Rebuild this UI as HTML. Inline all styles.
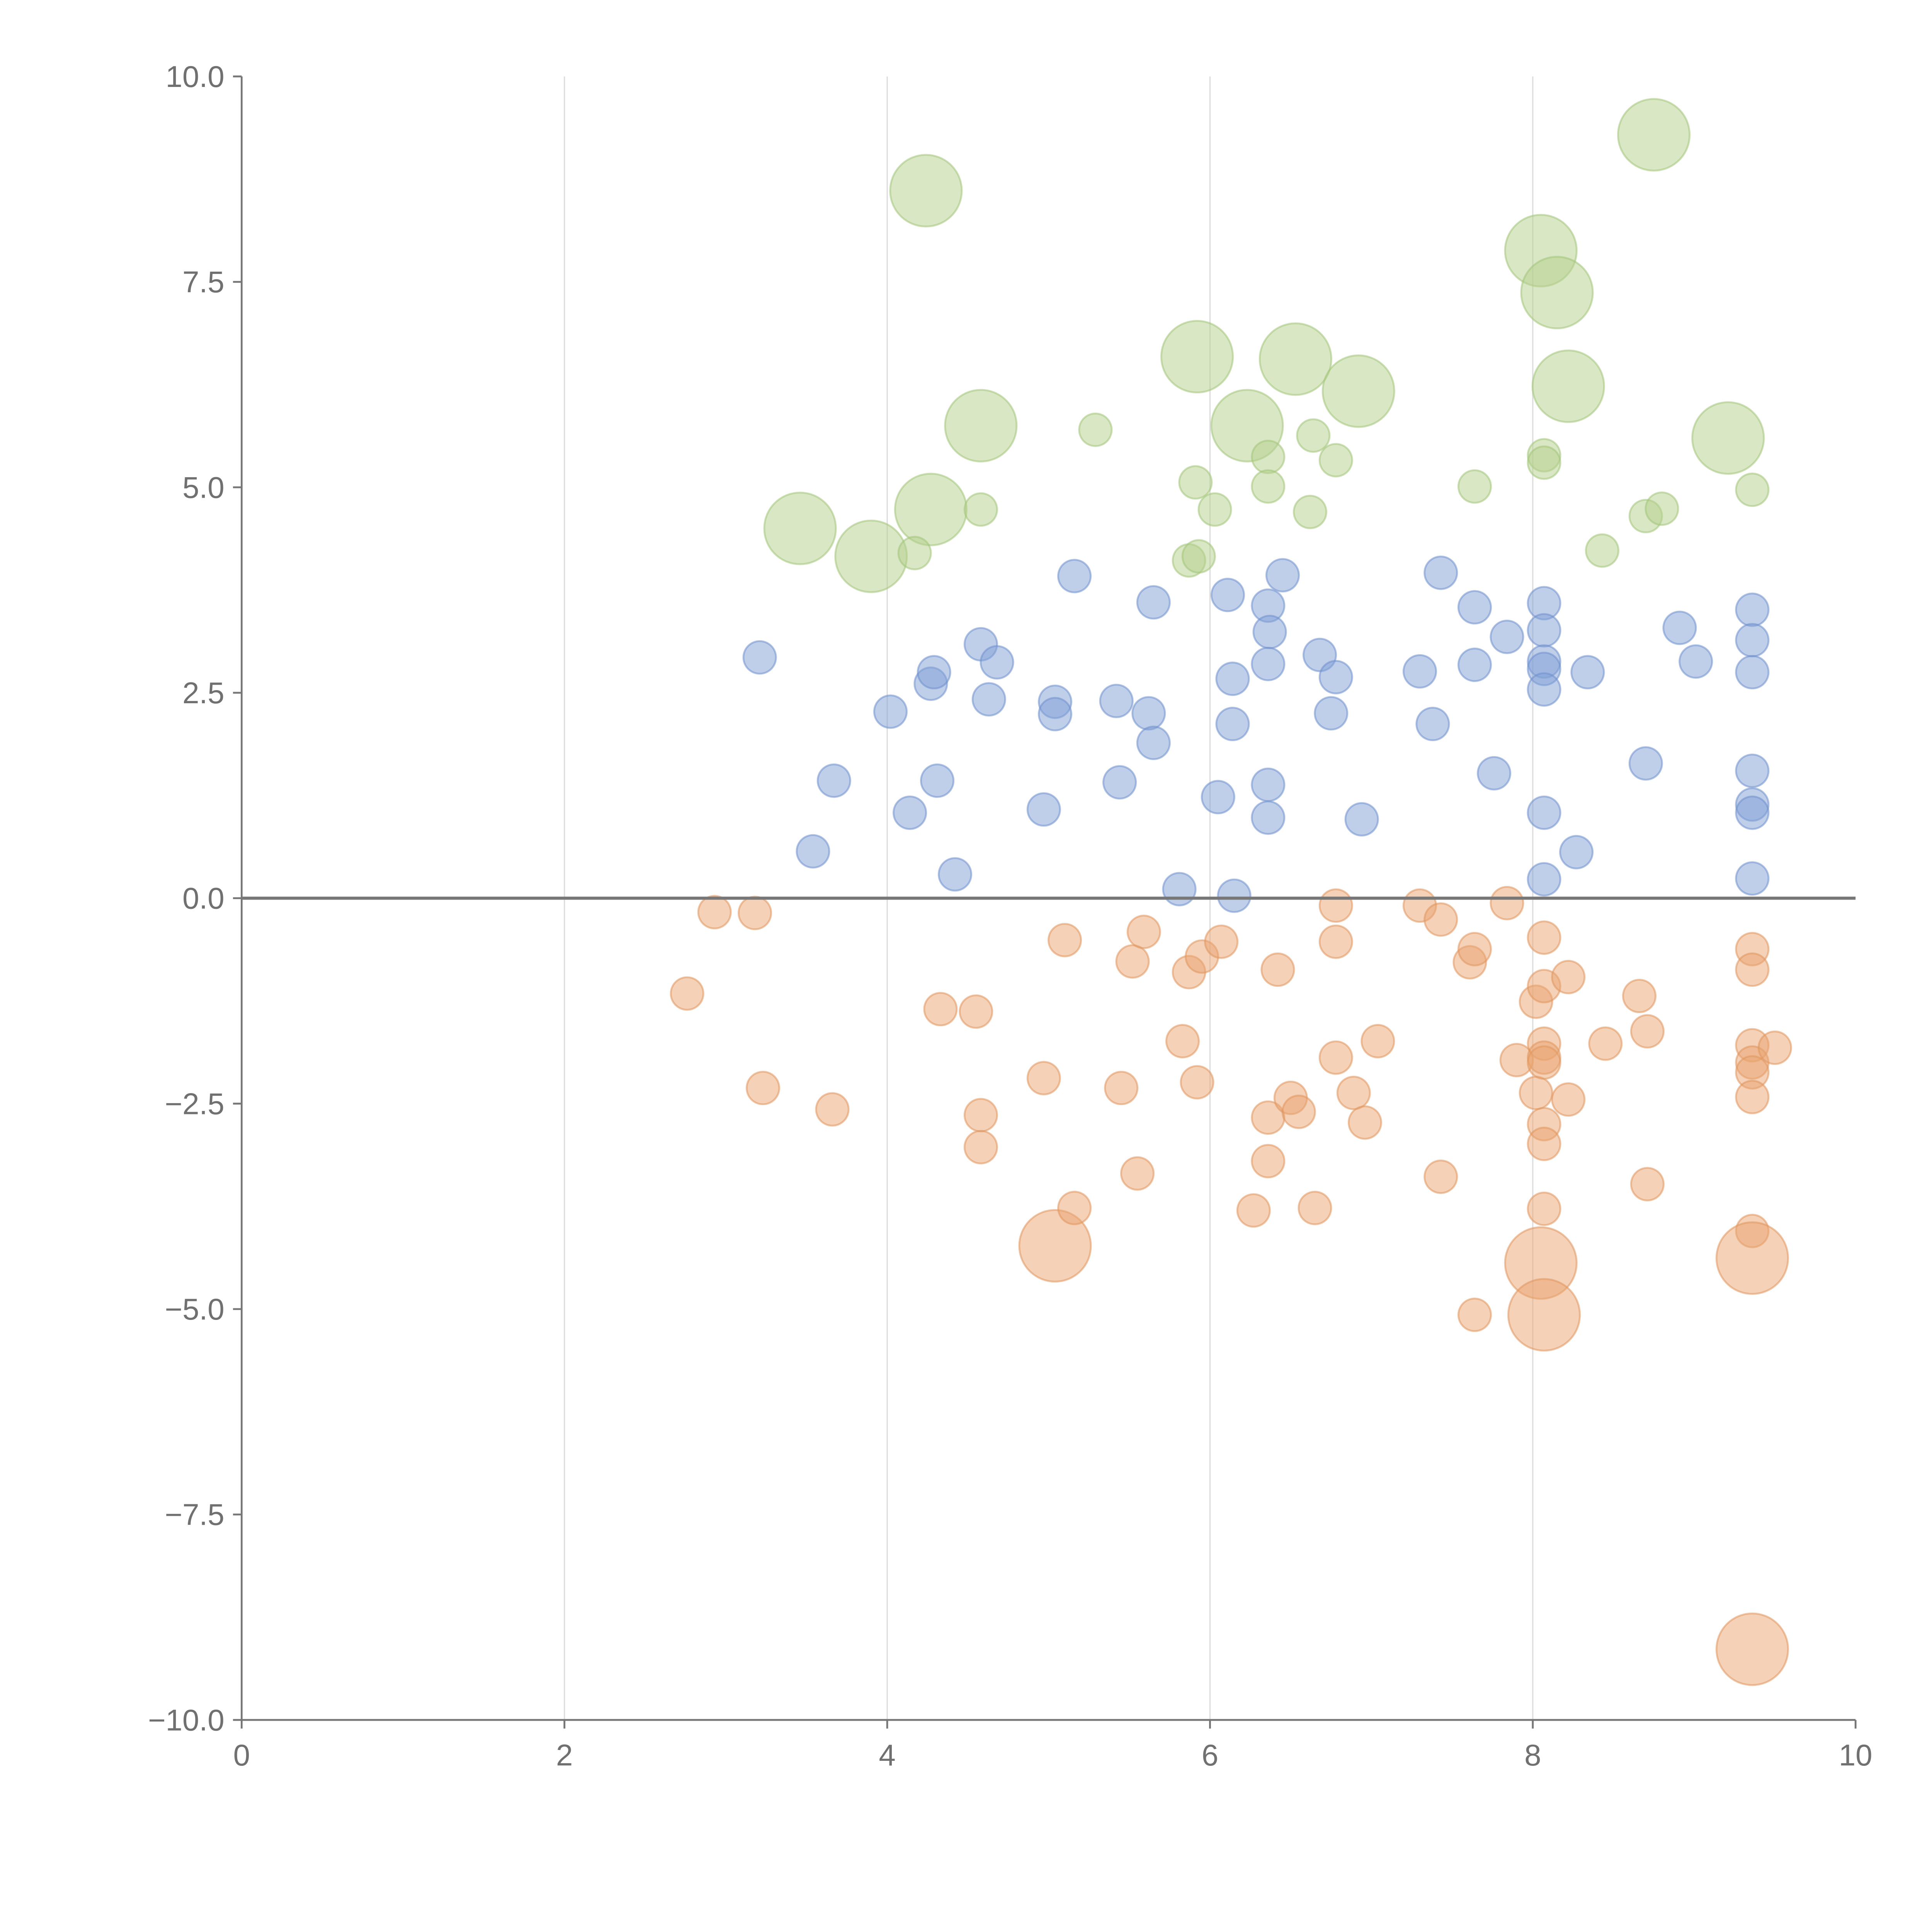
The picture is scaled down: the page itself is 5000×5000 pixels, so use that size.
<!DOCTYPE html>
<html><head><meta charset="utf-8">
<style>
html,body{margin:0;padding:0;background:#fff;}
svg{display:block;font-family:"Liberation Sans",sans-serif;}
</style></head>
<body>
<svg id="chart" width="5000" height="5000" viewBox="0 0 1567 1567" xmlns="http://www.w3.org/2000/svg">
<g id="grid"></g>
<g id="marks"></g>
<g id="axes"></g>
</svg>
<script>
const xTicks = [0, 2, 4, 6, 8, 10];
const xTickLabels = ["0", "2", "4", "6", "8", "10"];
const yTicks = [10, 7.5, 5, 2.5, 0, -2.5, -5, -7.5, -10];
const yTickLabels = ["10.0", "7.5", "5.0", "2.5", "0.0", "\u22122.5", "\u22125.0", "\u22127.5", "\u221210.0"];

const greenX = [8.75,4.24,8.05,8.15,5.92,6.53,6.92,8.22,4.58,6.23,5.29,9.21,6.64,6.36,6.78,8.07,8.07,7.64,6.36,9.36,3.46,4.27,4.58,5.91,6.03,6.62,8.70,8.80,3.90,4.17,8.43,5.87,5.93];
const greenY = [9.29,8.61,7.88,7.37,6.59,6.56,6.17,6.23,5.75,5.75,5.70,5.60,5.63,5.37,5.33,5.39,5.30,5.01,5.01,4.97,4.50,4.73,4.73,5.06,4.73,4.70,4.65,4.74,4.16,4.20,4.23,4.11,4.16];
const greenS = [2.2,2.2,2.2,2.2,2.2,2.2,2.2,2.2,2.2,2.2,1,2.2,1,1,1,1,1,1,1,1,2.2,2.2,1,1,1,1,1,1,2.2,1,1,1,1];

const blueX = [3.21,3.54,3.67,4.02,4.14,4.27,4.29,4.31,4.42,4.58,4.63,4.68,4.97,5.04,5.04,5.16,5.42,5.44,5.62,5.65,5.65,5.81,6.05,6.11,6.14,6.14,6.15,6.36,6.37,6.36,6.36,6.36,6.45,6.68,6.75,6.78,6.94,7.30,7.38,7.43,7.64,7.64,7.76,7.84,8.07,8.07,8.07,8.07,8.07,8.07,8.07,8.27,8.34,8.70,8.91,9.01,9.36,9.36,9.36,9.36,9.36,9.36,9.36];
const blueY = [2.93,0.57,1.43,2.27,1.04,2.61,2.75,1.43,0.29,3.09,2.42,2.87,1.08,2.39,2.24,3.92,2.40,1.41,2.25,1.89,3.60,0.11,1.23,3.69,2.67,2.12,0.03,3.56,3.24,2.85,1.38,0.98,3.93,2.96,2.25,2.69,0.96,2.76,2.12,3.96,2.84,3.54,1.52,3.18,3.59,3.26,2.88,2.79,2.54,1.04,0.23,0.56,2.75,1.64,3.29,2.88,3.51,3.14,2.75,1.55,1.14,1.04,0.24];

const orangeX = [2.76,2.93,3.18,3.23,3.66,4.33,4.55,4.58,4.58,4.97,5.10,5.04,5.16,5.45,5.52,5.55,5.59,5.83,5.87,5.92,5.95,6.07,6.27,6.36,6.36,6.42,6.50,6.55,6.65,6.78,6.78,6.78,6.89,6.96,7.04,7.30,7.43,7.43,7.64,7.61,7.64,7.84,7.90,8.02,8.02,8.07,8.07,8.07,8.07,8.07,8.07,8.07,8.07,8.05,8.07,8.22,8.22,8.45,8.66,8.71,8.71,9.36,9.36,9.36,9.36,9.36,9.36,9.36,9.36,9.50,9.36];
const orangeY = [-1.16,-0.17,-0.18,-2.31,-2.57,-1.35,-1.38,-2.64,-3.03,-2.19,-0.51,-4.23,-3.77,-2.31,-0.77,-3.35,-0.41,-1.74,-0.90,-2.24,-0.71,-0.53,-3.80,-2.67,-3.20,-0.87,-2.43,-2.60,-3.77,-0.09,-0.53,-1.94,-2.37,-2.73,-1.74,-0.09,-0.26,-3.39,-5.07,-0.78,-0.62,-0.06,-1.97,-2.37,-1.26,-0.48,-1.07,-1.77,-1.94,-2.00,-2.75,-2.99,-3.78,-4.44,-5.07,-0.96,-2.45,-1.77,-1.19,-1.62,-3.48,-0.62,-0.87,-1.79,-2.00,-2.12,-2.42,-4.05,-4.38,-1.82,-9.14];
const orangeS = [1,1,1,1,1,1,1,1,1,1,1,2.2,1,1,1,1,1,1,1,1,1,1,1,1,1,1,1,1,1,1,1,1,1,1,1,1,1,1,1,1,1,1,1,1,1,1,1,1,1,1,1,1,1,2.2,2.2,1,1,1,1,1,1,1,1,1,1,1,1,1,2.2,1,2.2];

const NS = "http://www.w3.org/2000/svg";
const X0 = 196, X1 = 1505, Y0 = 1395, Y1 = 62;
function xScale(v){ return X0 + (v - 0) / 10 * (X1 - X0); }
function yScale(v){ return Y0 - (v + 10) / 20 * (Y0 - Y1); }
function rScale(s){ return 13.2 * s; }
function mk(tag, attrs, parent){
  const el = document.createElementNS(NS, tag);
  for (const k in attrs) el.setAttribute(k, attrs[k]);
  parent.appendChild(el);
  return el;
}
const grid = document.getElementById('grid');
const marks = document.getElementById('marks');
const axes = document.getElementById('axes');

[2,4,6,8].forEach(v => {
  const l = mk('line', {x1:xScale(v), x2:xScale(v), y1:Y1, y2:Y0, stroke:'#dcdcdc', 'stroke-width':1}, grid);
  
  
});

function drawSeries(xs, ys, ss, fill, stroke, name){
  for (let i = 0; i < xs.length; i++){
    const c = mk('circle', {cx:xScale(xs[i]), cy:yScale(ys[i]), r:rScale(ss ? ss[i] : 1), fill:fill, 'fill-opacity':0.5, stroke:stroke, 'stroke-opacity':0.55, 'stroke-width':1.5}, marks);
    
    
  }
}
drawSeries(greenX, greenY, greenS, '#b3cf8c', '#a3c47a', 'green-bubble');
drawSeries(blueX, blueY, null, '#7f9fd6', '#6f90cc', 'blue-bubble');
drawSeries(orangeX, orangeY, orangeS, '#e9a470', '#e0965f', 'orange-bubble');

const zero = mk('line', {x1:X0, x2:X1, y1:yScale(0), y2:yScale(0), stroke:'#777', 'stroke-width':2.5}, axes);



const ya = mk('line', {x1:X0, x2:X0, y1:Y1, y2:Y0, stroke:'#777', 'stroke-width':1.5}, axes);


const xa = mk('line', {x1:X0, x2:X1, y1:Y0, y2:Y0, stroke:'#777', 'stroke-width':1.5}, axes);



xTicks.forEach((v, i) => {
  const t = mk('line', {x1:xScale(v), x2:xScale(v), y1:Y0, y2:Y0+7, stroke:'#777', 'stroke-width':1.5}, axes);
  
  
  const tx = mk('text', {x:xScale(v), y:Y0+37, 'text-anchor':'middle', 'font-size':24.5, fill:'#707070'}, axes);
  tx.textContent = xTickLabels[i];
  
  
});
yTicks.forEach((v, i) => {
  const t = mk('line', {x1:X0-7, x2:X0, y1:yScale(v), y2:yScale(v), stroke:'#777', 'stroke-width':1.5}, axes);
  
  
  const tx = mk('text', {x:X0-14, y:yScale(v)+8.5, 'text-anchor':'end', 'font-size':24.5, fill:'#707070'}, axes);
  tx.textContent = yTickLabels[i];
  
  
});
</script>
</body></html>
